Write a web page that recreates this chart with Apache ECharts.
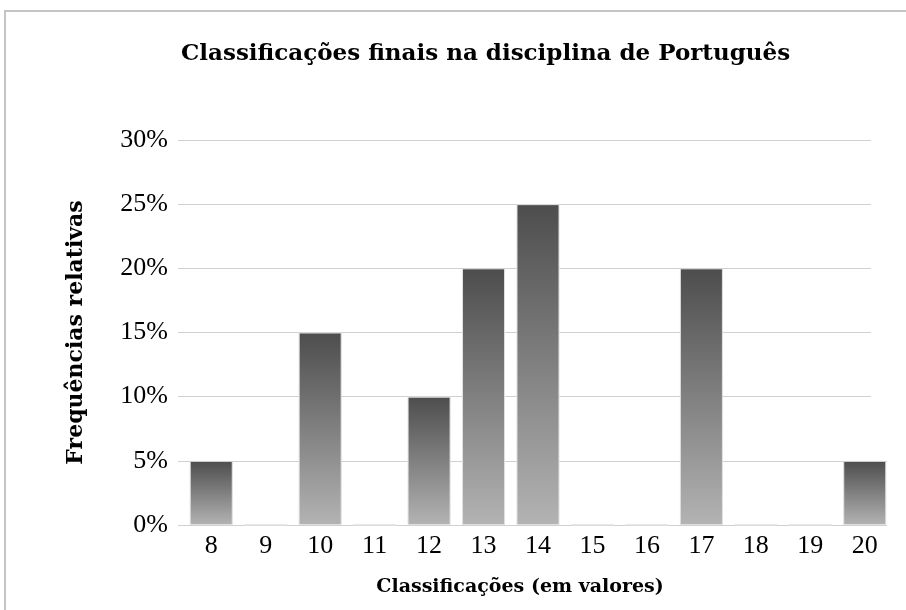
<!DOCTYPE html>
<html>
<head>
<meta charset="UTF-8">
<title>Classificações finais</title>
<script type="text/javascript" src="https://cdn.jsdelivr.net/npm/echarts@6/dist/echarts.min.js"></script>
</head>
<body style="margin:0">
<div id="main" style="width:906px;height:610px"></div>
<script type="text/javascript">
var categorias = ['8', '9', '10', '11', '12', '13', '14', '15', '16', '17', '18', '19', '20'];
var frequencias = [5, 0, 15, 0, 10, 20, 25, 0, 0, 20, 0, 0, 5];
var fonteTexto = '"Liberation Serif", "DejaVu Serif", serif';
var fonteTitulo = '"DejaVu Serif", serif';

var myChart = echarts.init(document.getElementById('main'));

var option = {
    backgroundColor: '#fff',
    animation: false,
    graphic: [
        {   // moldura exterior
            type: 'rect',
            shape: { x: 5, y: 11, width: 910, height: 610 },
            style: { fill: 'none', stroke: '#c4c4c4', lineWidth: 2 }
        },
        {   // as linhas de grelha acabam antes da ultima barra
            type: 'rect', z: 1,
            shape: { x: 871, y: 130, width: 30, height: 326 },
            style: { fill: '#fff' }
        },
        {
            type: 'rect', z: 1,
            shape: { x: 887, y: 455, width: 14, height: 80 },
            style: { fill: '#fff' }
        }
    ],
    title: {
        text: 'Classificações finais na disciplina de Português',
        left: 176,
        top: 38,
        textStyle: { fontFamily: fonteTitulo, fontSize: 23, fontWeight: 'bold', color: '#000' }
    },
    grid: { left: 184, right: 14, top: 140, bottom: 85 },
    xAxis: {
        type: 'category',
        data: categorias,
        name: 'Classificações (em valores)',
        nameLocation: 'middle',
        nameGap: 53,
        nameTextStyle: {
            fontFamily: fonteTitulo, fontSize: 19, fontWeight: 'bold', color: '#000',
            padding: [0, 36, 0, 0]
        },
        axisLine: { lineStyle: { color: '#d0d0d0', width: 1 } },
        axisTick: { show: false },
        axisLabel: { fontFamily: fonteTexto, fontSize: 26, color: '#000', margin: 8 }
    },
    yAxis: {
        type: 'value',
        min: 0,
        max: 30,
        interval: 5,
        name: 'Frequências relativas',
        nameLocation: 'middle',
        nameGap: 97,
        nameTextStyle: { fontFamily: fonteTitulo, fontSize: 22, fontWeight: 'bold', color: '#000' },
        axisLine: { show: false },
        axisTick: { show: true, length: 6, lineStyle: { color: '#d0d0d0' } },
        splitLine: { lineStyle: { color: '#d0d0d0', width: 1 } },
        axisLabel: {
            fontFamily: fonteTexto, fontSize: 26, color: '#000', margin: 16,
            formatter: '{value}%'
        }
    },
    series: [{
        type: 'bar',
        data: frequencias,
        barCategoryGap: '21%',
        itemStyle: {
            color: new echarts.graphic.LinearGradient(0, 0, 0, 1, [
                { offset: 0, color: '#4d4d4d' },
                { offset: 1, color: '#b3b3b3' }
            ]),
            borderColor: '#e0e0e0',
            borderWidth: 1
        }
    }]
};

myChart.setOption(option);
</script>
</body>
</html>
